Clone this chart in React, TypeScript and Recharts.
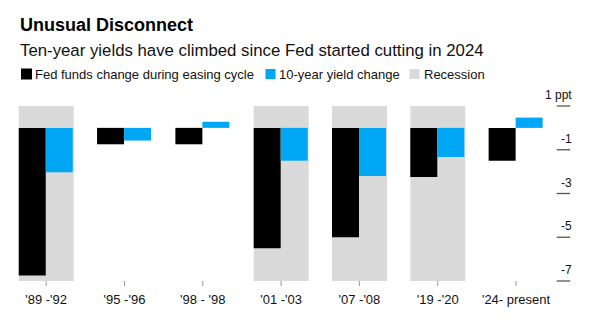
import React from 'react';
import { BarChart, Bar, XAxis, YAxis } from 'recharts';

const categories = ["'89 -'92", "'95 -'96", "'98 - '98", "'01 -'03", "'07 -'08", "'19 -'20", "'24- present"];
const fedFundsChange = [-6.75, -0.75, -0.75, -5.5, -5.0, -2.25, -1.5];
const tenYearChange = [-2.03, -0.58, 0.28, -1.5, -2.2, -1.33, 0.47];
const recessionFlags = [true, false, false, true, true, true, false];
const yTicks = [1, -1, -3, -5, -7];
const yDomain: [number, number] = [-7, 1];

const data = categories.map((name, i) => ({
  name,
  fed: fedFundsChange[i],
  ten: tenYearChange[i],
  rec: recessionFlags[i] ? [yDomain[0], yDomain[1]] : null,
}));

const FONT = '"Liberation Sans", Arial, Helvetica, sans-serif';
const BLUE = '#00a7f5';
const GRAY = '#dadada';

const YTick = (props: any) => {
  const { x, y, payload } = props;
  const label = payload.value === 1 ? '1 ppt' : String(payload.value);
  return (
    <g>
      <line x1={x + 1.5} x2={x + 15} y1={y} y2={y} stroke="#555" strokeWidth={1.3} />
      <text x={x + 16.5} y={y - 7} textAnchor="end" fontSize={12} fill="#111" fontFamily={FONT}>
        {label}
      </text>
    </g>
  );
};

export default function App() {
  return (
    <div
      style={{
        position: 'absolute',
        left: 0,
        top: 0,
        width: 600,
        height: 330,
        overflow: 'hidden',
        background: '#fff',
        fontFamily: FONT,
      }}
    >
      <div style={{ position: 'absolute', left: 0, top: 0 }}>
        <BarChart
          width={600}
          height={330}
          data={data}
          margin={{ top: 106, right: 0, bottom: 19, left: 7 }}
          barCategoryGap="15%"
          barGap={0}
        >
          <XAxis
            xAxisId="main"
            dataKey="name"
            axisLine={false}
            tickLine={{ stroke: '#999', strokeWidth: 1 }}
            tickSize={5}
            tickMargin={9}
            height={30}
            interval={0}
            tick={{ fontSize: 13, fill: '#111', fontFamily: FONT }}
          />
          <XAxis xAxisId="bg" dataKey="name" hide height={0} />
          <YAxis
            orientation="right"
            domain={yDomain}
            ticks={yTicks}
            interval={0}
            axisLine={false}
            tickLine={false}
            tickSize={0}
            tickMargin={0}
            width={44.8}
            tick={<YTick />}
          />
          <Bar xAxisId="bg" dataKey="rec" fill={GRAY} isAnimationActive={false} />
          <Bar xAxisId="main" dataKey="fed" fill="#000" isAnimationActive={false} />
          <Bar xAxisId="main" dataKey="ten" fill={BLUE} isAnimationActive={false} />
        </BarChart>
      </div>
      <svg
        width={600}
        height={330}
        style={{ position: 'absolute', left: 0, top: 0, pointerEvents: 'none' }}
      >
        <text x={20} y={30.5} fontSize={18} fontWeight="bold" fill="#000" fontFamily={FONT}>
          Unusual Disconnect
        </text>
        <text x={20} y={56} fontSize={16.8} fill="#111" fontFamily={FONT}>
          Ten-year yields have climbed since Fed started cutting in 2024
        </text>
        <rect x={21} y={68.5} width={11} height={11} fill="#000" />
        <text x={35} y={78.5} fontSize={13} fill="#111" fontFamily={FONT}>
          Fed funds change during easing cycle
        </text>
        <rect x={265.5} y={69} width={10} height={10} fill={BLUE} />
        <text x={279} y={78.5} fontSize={13} fill="#111" fontFamily={FONT}>
          10-year yield change
        </text>
        <rect x={409.5} y={69} width={10} height={10} fill={GRAY} />
        <text x={424} y={78.5} fontSize={13} fill="#111" fontFamily={FONT}>
          Recession
        </text>
        <text x={17} y={338} fontSize={11} fill="#555" fontFamily={FONT}>
          Source: Bloomberg
        </text>
      </svg>
    </div>
  );
}
